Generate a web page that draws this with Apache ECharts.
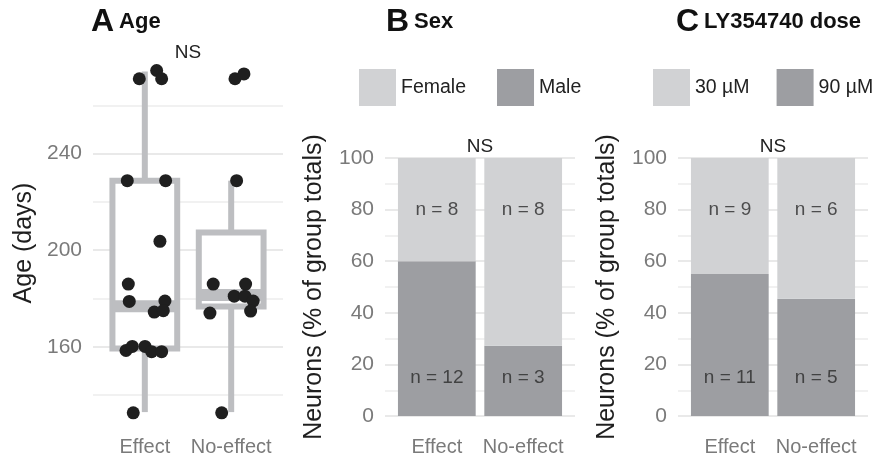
<!DOCTYPE html>
<html>
<head>
<meta charset="utf-8">
<script src="https://cdn.jsdelivr.net/npm/echarts@6/dist/echarts.min.js"></script>
<style>
  html, body { margin: 0; padding: 0; background: #fff; }
  #chart { width: 875px; height: 459px; }
</style>
</head>
<body>
<div id="chart"></div>
<script>
var groups = ['Effect', 'No-effect'];

// Panel A: box stats [min, q1, median, q3, max]
var ageBoxEffect = [133, 159.3, 176.8, 228.8, 274];
var ageBoxNoEffect = [133, 176.7, 181.5, 207.3, 228.8];
// jittered points [x position, age]
var agePointsEffect = [
  [0.936, 271], [1.137, 274.4], [1.195, 271], [0.797, 228.8], [1.241, 228.8],
  [1.175, 203.7], [0.809, 186], [0.82, 178.8], [1.233, 179], [1.109, 174.4],
  [1.214, 175], [0.782, 158.5], [0.855, 160.2], [1.002, 160.2], [1.079, 158],
  [1.195, 158], [0.866, 132.7]
];
var agePointsNoEffect = [
  [2.044, 271], [2.148, 273], [2.063, 228.8], [1.792, 186], [2.167, 186],
  [2.035, 181], [2.159, 181], [2.255, 179], [2.225, 174.8], [1.754, 174],
  [1.89, 132.7]
];
var ageTicks = [160, 200, 240];
var ageGridLines = [140, 160, 180, 200, 220, 240, 260];

// Panel B: counts per group
var sexFemale = [8, 8];
var sexMale = [12, 3];
// Panel C: counts per group
var dose30 = [9, 6];
var dose90 = [11, 5];

var pctTicks = [0, 20, 40, 60, 80, 100];
var pctGridLines = [0, 10, 20, 30, 40, 50, 60, 70, 80, 90, 100];

var font = 'Liberation Sans, Arial, sans-serif';
var grey = '#7a7a7a';
var ink = '#1f1f1f';
var lightFill = '#d1d2d4';
var darkFill = '#9d9ea2';
var boxLine = '#bdbec1';

function xAxisFor(gi) {
  return {
    type: 'value', gridIndex: gi, min: 0.4, max: 2.6,
    axisLine: { show: false }, axisTick: { show: false }, splitLine: { show: false },
    axisLabel: {
      customValues: [1, 2],
      formatter: function(v) { return groups[Math.round(v) - 1]; },
      color: grey, fontSize: 20, fontFamily: font, margin: 8
    }
  };
}

function yAxisFor(gi, min, max, labels, lines, colors, name, gap) {
  return {
    type: 'value', gridIndex: gi, min: min, max: max,
    axisLine: { show: false },
    axisTick: { show: false, customValues: lines },
    axisLabel: { customValues: labels, color: grey, fontSize: 21, fontFamily: font, margin: 11 },
    splitLine: { show: true, lineStyle: { color: colors, width: 2 } },
    name: name, nameLocation: 'middle', nameGap: gap,
    nameTextStyle: { color: ink, fontSize: 25, fontFamily: font }
  };
}

function nLabels(gi, top, bottom) {
  var data = [];
  top.forEach(function(v, i) { data.push([i + 1, 80, 'n = ' + v]); });
  bottom.forEach(function(v, i) { data.push([i + 1, 15, 'n = ' + v]); });
  return {
    type: 'scatter', xAxisIndex: gi, yAxisIndex: gi, silent: true, z: 5,
    symbolSize: 1, itemStyle: { color: 'rgba(0,0,0,0)' },
    label: {
      show: true, position: 'inside', color: '#2b2b2b', fontSize: 19, fontFamily: font,
      formatter: function(p) { return p.value[2]; }
    },
    data: data
  };
}

// stacked percent bar: each item is [x, bottom %, top %]
function stackBar(gi, name, counts, other, below, color) {
  var data = counts.map(function(v, i) {
    var total = v + other[i];
    var base = below ? 0 : other[i] / total * 100;
    return [i + 1, base, base + v / total * 100];
  });
  return {
    type: 'custom', name: name, xAxisIndex: gi, yAxisIndex: gi, silent: true, z: 2,
    itemStyle: { color: color },
    data: data,
    renderItem: function(params, api) {
      var a = api.coord([api.value(0) - 0.45, api.value(2)]);
      var b = api.coord([api.value(0) + 0.45, api.value(1)]);
      return { type: 'rect', shape: { x: a[0], y: a[1], width: b[0] - a[0], height: b[1] - a[1] }, style: { fill: color } };
    }
  };
}

var chart = echarts.init(document.getElementById('chart'), null, { renderer: 'canvas' });

var majorMinor = ['#f1f1f1', '#e9e9e9'];
var pctColors = ['#e9e9e9', '#f1f1f1'];
var titleRich = { a: { fontSize: 32, fontWeight: 'bold', color: '#111' }, b: { fontSize: 22, fontWeight: 'bold', color: '#111' } };

chart.setOption({
  animation: false,
  textStyle: { fontFamily: font },
  title: [
    { text: '{a|A} {b|Age}', left: 91, top: 6, padding: 0, textStyle: { rich: titleRich } },
    { text: '{a|B} {b|Sex}', left: 386, top: 6, padding: 0, textStyle: { rich: titleRich } },
    { text: '{a|C} {b|LY354740 dose}', left: 676, top: 6, padding: 0, textStyle: { rich: titleRich } }
  ],
  legend: [
    { data: ['Female', 'Male'], left: 359, top: 69, itemWidth: 37, itemHeight: 37, itemGap: 31,
      icon: 'rect', selectedMode: false, padding: 0,
      textStyle: { fontSize: 19.5, color: '#222', fontFamily: font } },
    { data: ['30 µM', '90 µM'], left: 653, top: 69, itemWidth: 37, itemHeight: 37, itemGap: 27,
      icon: 'rect', selectedMode: false, padding: 0,
      textStyle: { fontSize: 19.5, color: '#222', fontFamily: font } }
  ],
  graphic: [
    { type: 'text', x: 188, y: 53, silent: true, style: { text: 'NS', align: 'center', verticalAlign: 'middle', font: '19px ' + font, fill: '#222' } },
    { type: 'text', x: 480, y: 147, silent: true, style: { text: 'NS', align: 'center', verticalAlign: 'middle', font: '19px ' + font, fill: '#222' } },
    { type: 'text', x: 773, y: 147, silent: true, style: { text: 'NS', align: 'center', verticalAlign: 'middle', font: '19px ' + font, fill: '#222' } }
  ],
  grid: [
    { left: 93, top: 57, width: 190, height: 372 },
    { left: 385, top: 145, width: 190, height: 284 },
    { left: 678, top: 145, width: 190, height: 284 }
  ],
  xAxis: [xAxisFor(0), xAxisFor(1), xAxisFor(2)],
  yAxis: [
    yAxisFor(0, 126, 280, ageTicks, ageGridLines, majorMinor, 'Age (days)', 56),
    yAxisFor(1, -5, 105, pctTicks, pctGridLines, pctColors, 'Neurons (% of group totals)', 58),
    yAxisFor(2, -5, 105, pctTicks, pctGridLines, pctColors, 'Neurons (% of group totals)', 58)
  ],
  series: [
    {
      type: 'custom', xAxisIndex: 0, yAxisIndex: 0, silent: true, z: 2,
      data: [[1].concat(ageBoxEffect), [2].concat(ageBoxNoEffect)],
      renderItem: function(params, api) {
        var x = api.value(0), lo = api.value(1), q1 = api.value(2), md = api.value(3), q3 = api.value(4), hi = api.value(5);
        var hw = 0.375;
        var tl = api.coord([x - hw, q3]), br = api.coord([x + hw, q1]);
        var cTop = api.coord([x, hi]), cQ3 = api.coord([x, q3]), cQ1 = api.coord([x, q1]), cLo = api.coord([x, lo]);
        var mL = api.coord([x - hw, md]), mR = api.coord([x + hw, md]);
        var ls = { stroke: boxLine, lineWidth: 6, fill: null };
        return {
          type: 'group',
          children: [
            { type: 'line', shape: { x1: cTop[0], y1: cTop[1], x2: cQ3[0], y2: cQ3[1] }, style: ls },
            { type: 'line', shape: { x1: cQ1[0], y1: cQ1[1], x2: cLo[0], y2: cLo[1] }, style: ls },
            { type: 'rect', shape: { x: tl[0], y: tl[1], width: br[0] - tl[0], height: br[1] - tl[1] },
              style: { fill: '#fff', stroke: boxLine, lineWidth: 6 } },
            { type: 'line', shape: { x1: mL[0], y1: mL[1], x2: mR[0], y2: mR[1] }, style: { stroke: boxLine, lineWidth: 12 } }
          ]
        };
      }
    },
    {
      type: 'scatter', xAxisIndex: 0, yAxisIndex: 0, silent: true, z: 4, clip: false,
      symbolSize: 13, itemStyle: { color: ink, opacity: 1 },
      data: agePointsEffect.concat(agePointsNoEffect)
    },
    stackBar(1, 'Male', sexMale, sexFemale, true, darkFill),
    stackBar(1, 'Female', sexFemale, sexMale, false, lightFill),
    nLabels(1, sexFemale, sexMale),
    stackBar(2, '90 µM', dose90, dose30, true, darkFill),
    stackBar(2, '30 µM', dose30, dose90, false, lightFill),
    nLabels(2, dose30, dose90)
  ]
});
</script>
</body>
</html>
